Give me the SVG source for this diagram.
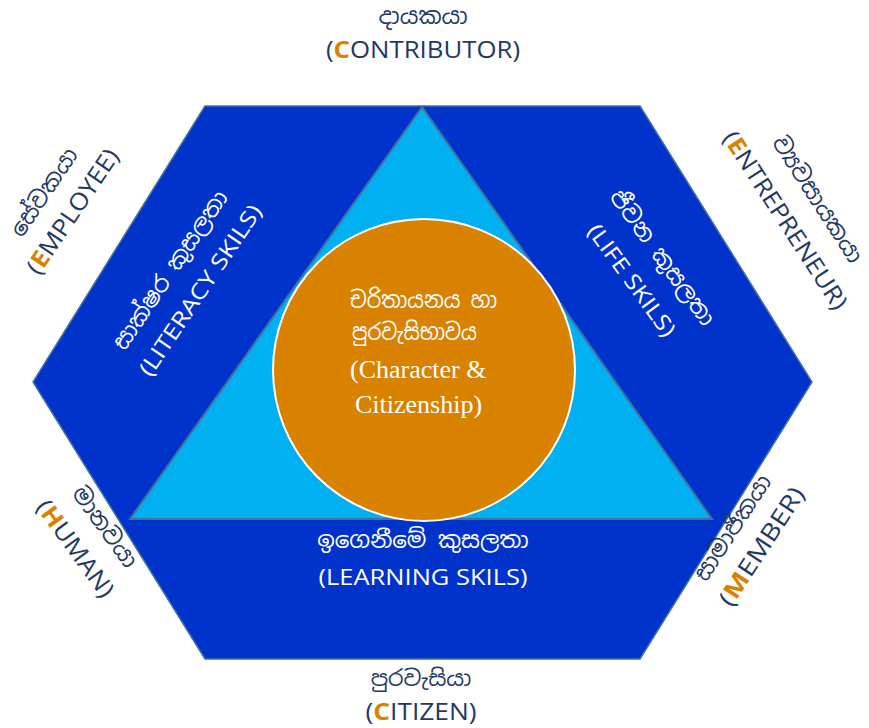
<svg xmlns="http://www.w3.org/2000/svg" width="869" height="728" viewBox="0 0 869 728">
<style>
.lbl{font-family:"Open Sans","Noto Sans",sans-serif;font-size:24px;fill:#1F3864;text-anchor:middle}
.si{font-family:"Noto Sans Sinhala","Iskoola Pota","Noto Sans","Open Sans",sans-serif;font-size:23px;text-anchor:middle}
.dk{fill:#1F3864}
.wh{fill:#FFFFFF}
.ini{fill:#D98200;font-weight:bold}
.in{font-family:"Open Sans","Noto Sans",sans-serif;font-size:22px;fill:#FFFFFF;text-anchor:middle}
.ctr{font-family:"Liberation Serif","Times New Roman",serif;font-size:26px;fill:#FFFFFF}
</style>
<rect width="869" height="728" fill="#FFFFFF"/>
<g id="hexagon">
<polygon points="205,106 640,106 812,382 640,659 205,659 33,382" fill="#0033CC" stroke="#41719C" stroke-width="1.5"/>
</g>
<g id="triangle">
<polygon points="422,107 130,519 712,519" fill="#00B0F0" stroke="#41719C" stroke-width="2"/>
</g>
<g id="circle">
<circle cx="424" cy="370" r="151" fill="#D98200" stroke="#FFFFFF" stroke-width="2"/>
<text class="si wh" x="350" y="308" style="text-anchor:start" textLength="147" lengthAdjust="spacingAndGlyphs">චරිතායනය හා</text>
<text class="si wh" x="352" y="340" style="text-anchor:start" textLength="125" lengthAdjust="spacingAndGlyphs">පුරවැසිභාවය</text>
<text class="ctr" x="350" y="378">(Character &amp;</text>
<text class="ctr" x="355" y="413">Citizenship)</text>
</g>
<g id="connectors"></g>
<g id="contributor">
<text class="si dk" x="423" y="24">දායකයා</text>
<text class="lbl" x="423" y="58" textLength="194" lengthAdjust="spacingAndGlyphs">(<tspan class="ini">C</tspan>ONTRIBUTOR)</text>
</g>
<g id="citizen">
<text class="si dk" x="421" y="686" style="font-size:22px">පුරවැසියා</text>
<text class="lbl" x="421" y="720" textLength="111" lengthAdjust="spacingAndGlyphs">(<tspan class="ini">C</tspan>ITIZEN)</text>
</g>
<g id="employee" transform="translate(72,211) rotate(-56)">
<text class="si dk" x="0" y="-26">සේවකයා</text>
<text class="lbl" x="0" y="9" textLength="145" lengthAdjust="spacingAndGlyphs">(<tspan class="ini">E</tspan>MPLOYEE)</text>
</g>
<g id="entrepreneur" transform="translate(786,220) rotate(57)">
<text class="si dk" x="0" y="-30">ව්‍යවසායකයා</text>
<text class="lbl" x="0" y="9" textLength="207" lengthAdjust="spacingAndGlyphs">(<tspan class="ini">E</tspan>NTREPRENEUR)</text>
</g>
<g id="human" transform="translate(76,548) rotate(54)">
<text class="si dk" x="0" y="-28">මානවයා</text>
<text class="lbl" x="0" y="9" textLength="114" lengthAdjust="spacingAndGlyphs">(<tspan class="ini">H</tspan>UMAN)</text>
</g>
<g id="member" transform="translate(761,546) rotate(-57)">
<text class="si dk" x="0" y="-26">සාමාජිකයා</text>
<text class="lbl" x="0" y="9" textLength="136" lengthAdjust="spacingAndGlyphs">(<tspan class="ini">M</tspan>EMBER)</text>
</g>
<g id="literacy" transform="translate(200,290) rotate(-56)">
<text class="si wh" x="0" y="-28">සාක්ෂර කුසලතා</text>
<text class="in" x="0" y="8" textLength="201" lengthAdjust="spacingAndGlyphs">(LITERACY SKILS)</text>
</g>
<g id="life" transform="translate(632,280) rotate(54)">
<text class="si wh" x="0" y="-30">ජීවන කුසලතා</text>
<text class="in" x="0" y="8" textLength="133" lengthAdjust="spacingAndGlyphs">(LIFE SKILS)</text>
</g>
<g id="learning">
<text class="si wh" x="423" y="548">ඉගෙනීමේ කුසලතා</text>
<text class="in" x="423" y="585" textLength="209" lengthAdjust="spacingAndGlyphs">(LEARNING SKILS)</text>
</g>
</svg>
